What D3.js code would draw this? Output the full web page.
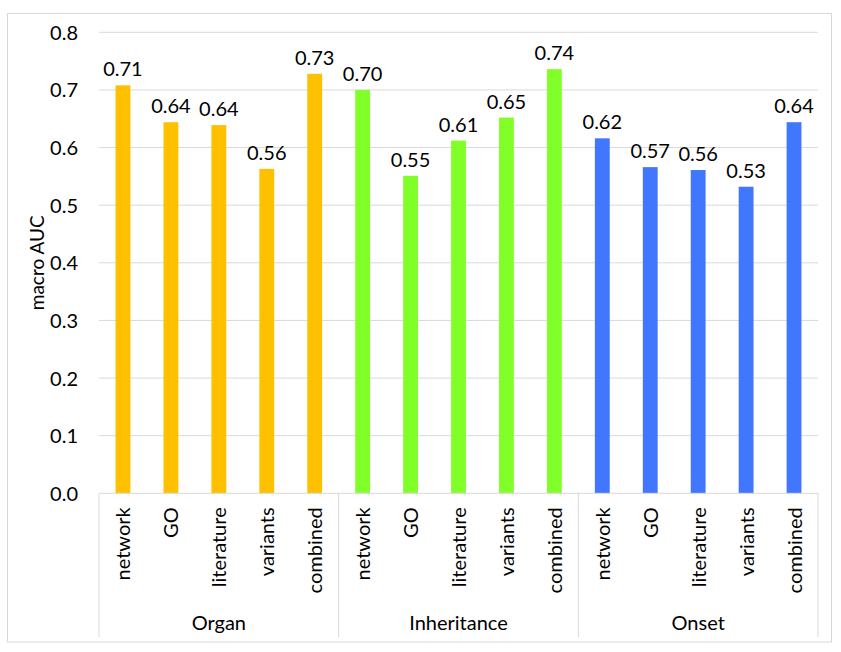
<!DOCTYPE html>
<html><head><meta charset="utf-8">
<script src="https://cdn.jsdelivr.net/npm/d3@7"></script>
<style>body{margin:0;background:#fff;} svg{display:block;font-family:Lato,"Open Sans",sans-serif;}</style>
</head><body>
<svg id="c" width="841" height="652"></svg>
<script>
const groups = ["Organ", "Inheritance", "Onset"];
const methods = ["network", "GO", "literature", "variants", "combined"];
const organValues = [0.708, 0.644, 0.639, 0.563, 0.728];
const inheritanceValues = [0.700, 0.551, 0.612, 0.652, 0.736];
const onsetValues = [0.616, 0.566, 0.561, 0.532, 0.644];
const valueLabels = [["0.71","0.64","0.64","0.56","0.73"],["0.70","0.55","0.61","0.65","0.74"],["0.62","0.57","0.56","0.53","0.64"]];
const yTicks = [0, 0.1, 0.2, 0.3, 0.4, 0.5, 0.6, 0.7, 0.8];
const colors = ["#FFC000", "#80FF28", "#4176FF"];

const seriesValues = [organValues, inheritanceValues, onsetValues];
const data = [];
groups.forEach((g, gi) => methods.forEach((m, mi) => data.push({g, gi, m, mi, v: seriesValues[gi][mi], label: valueLabels[gi][mi], key: g + "|" + m})));

const svg = d3.select("#c");
const L = 99, R = 818, T = 32.3, B = 493.3, boxBottom = 637;

svg.append("rect").attr("x", 7.5).attr("y", 13.5).attr("width", 824).attr("height", 628.5)
  .attr("fill", "#fff").attr("stroke", "#d9d9d9").attr("stroke-width", 1);

const x = d3.scaleBand().domain(data.map(d => d.key)).range([L, R]).paddingInner(0.69).paddingOuter(0.345);
const xg = d3.scaleBand().domain(groups).range([L, R]);
const y = d3.scaleLinear().domain([0, 0.8]).range([B, T]);

// grid
svg.append("g").selectAll("line").data(yTicks.slice(1)).join("line")
  .attr("x1", L).attr("x2", R).attr("y1", d => y(d)).attr("y2", d => y(d))
  .attr("stroke", "#d9d9d9").attr("stroke-width", 1);

// y axis labels
const yAxis = d3.axisLeft(y).tickValues(yTicks).tickFormat(d3.format(".1f")).tickSize(0).tickPadding(21);
const ya = svg.append("g").attr("transform", `translate(${L},0)`).call(yAxis);
ya.select(".domain").remove();
ya.attr("font-size", null).attr("font-family", null);
ya.selectAll("text").attr("font-size", 20).attr("fill", "#000").attr("dy", "0.35em");

svg.append("text").attr("transform", `translate(44,${(T + B) / 2}) rotate(-90)`)
  .attr("text-anchor", "middle").attr("font-size", 19).text("macro AUC");

// bars
svg.append("g").selectAll("rect").data(data).join("rect")
  .attr("x", d => x(d.key)).attr("width", x.bandwidth())
  .attr("y", d => y(d.v)).attr("height", d => y(0) - y(d.v))
  .attr("fill", d => colors[d.gi]);

// value labels
svg.append("g").selectAll("text").data(data).join("text")
  .attr("x", d => x(d.key) + x.bandwidth() / 2).attr("y", d => y(d.v) - 9)
  .attr("text-anchor", "middle").attr("font-size", 20).text(d => d.label);

// category axis box
const ax = svg.append("g").attr("stroke", "#d9d9d9").attr("stroke-width", 1);
ax.append("line").attr("x1", L).attr("x2", R).attr("y1", B).attr("y2", B);
[...groups.map(g => xg(g)), R].forEach(px => {
  ax.append("line").attr("x1", px).attr("x2", px).attr("y1", B).attr("y2", boxBottom);
});

// method labels
svg.append("g").selectAll("text").data(data).join("text")
  .attr("transform", d => `translate(${x(d.key) + x.bandwidth() / 2 + 7.5},${B + 14}) rotate(-90)`)
  .attr("text-anchor", "end").attr("font-size", 20).text(d => d.m);

// group labels
svg.append("g").selectAll("text").data(groups).join("text")
  .attr("x", g => xg(g) + xg.bandwidth() / 2).attr("y", 630)
  .attr("text-anchor", "middle").attr("font-size", 20).text(g => g);
</script>
</body></html>
